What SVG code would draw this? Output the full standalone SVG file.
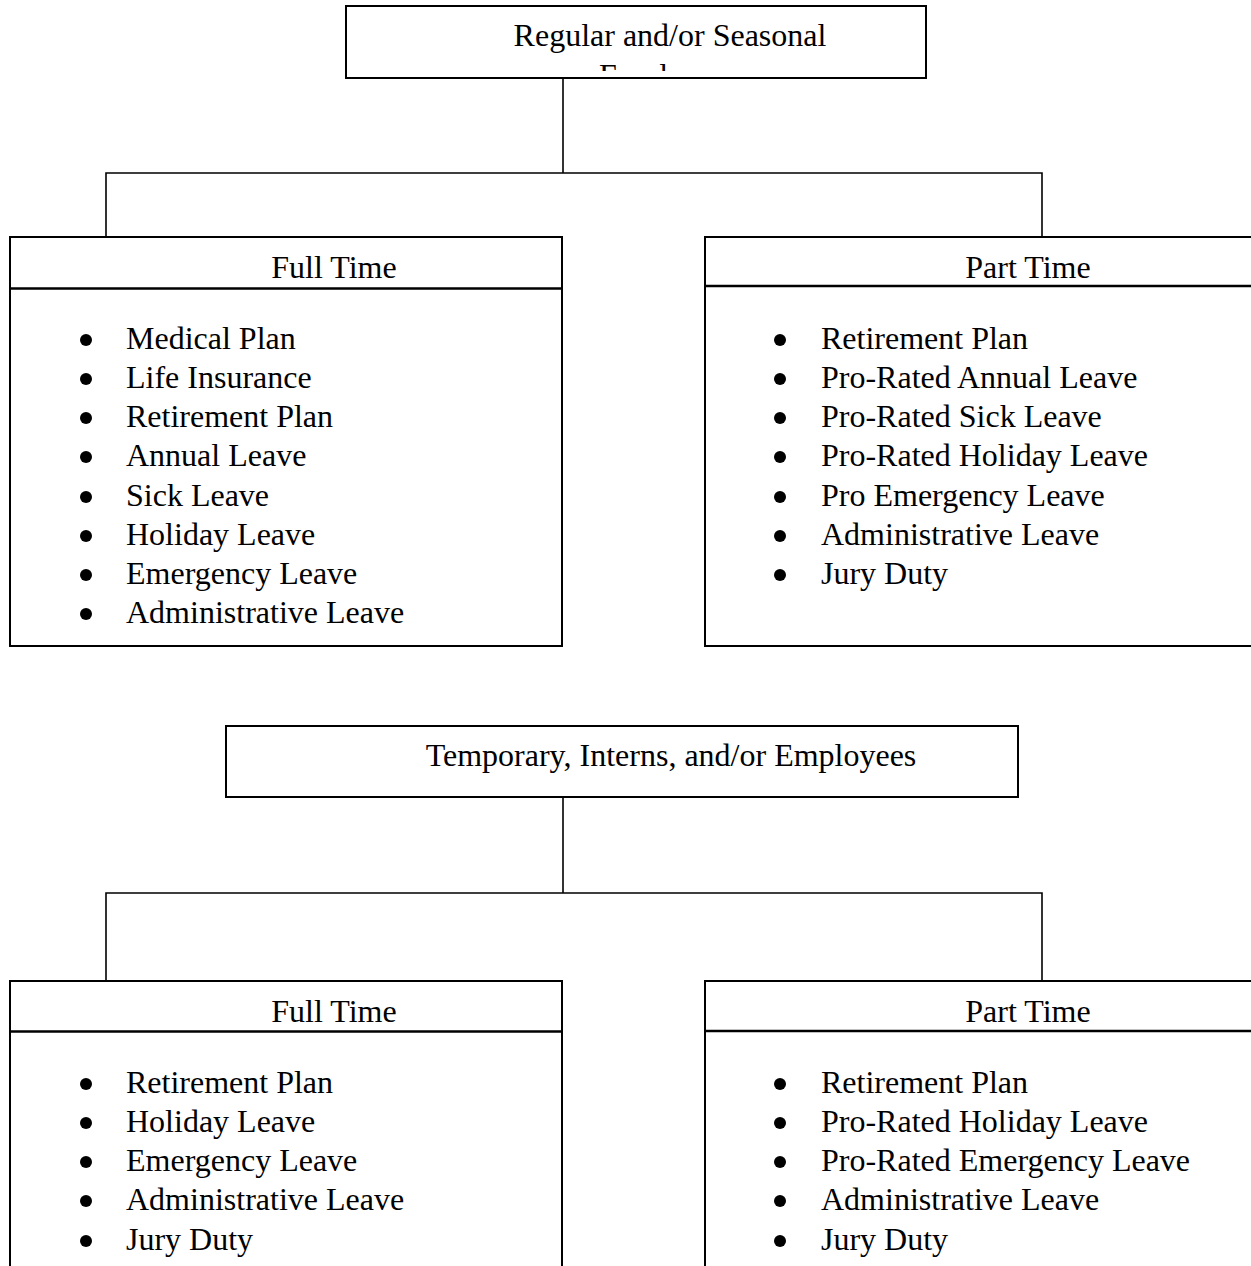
<svg xmlns="http://www.w3.org/2000/svg" width="1251" height="1266" viewBox="0 0 1251 1266">
<style>
.box{fill:#fff;stroke:#000;stroke-width:2}
.div{stroke:#000;stroke-width:2.5}
.con{fill:none;stroke:#000;stroke-width:1.6}
text{font-family:"Liberation Serif","Times New Roman",serif;font-size:32px;fill:#000}
.c{text-anchor:middle}
.b{fill:#000}
</style>
<defs>
<clipPath id="clipTop"><rect x="347" y="7" width="578" height="64"/></clipPath>
</defs>
<rect width="1251" height="1266" fill="#fff"/>
<g id="connectors">
<path class="con" d="M563 78V173M106 237V173H1042V237"/>
<path class="con" d="M563 797V893M106 981V893H1042V981"/>
</g>
<g id="regular">
<rect class="box" x="346" y="6" width="580" height="72"/>
<g clip-path="url(#clipTop)">
<text class="c" x="670" y="46">Regular and/or Seasonal</text>
<text class="c" x="670" y="86">Employees</text>
</g>
</g>
<g id="ft1">
<rect class="box" x="10" y="237" width="552" height="409"/>
<line class="div" x1="10" y1="288.5" x2="562" y2="288.5"/>
<text class="c" x="334" y="278">Full Time</text>
<g class="b"><circle cx="86" cy="340" r="6"/><circle cx="86" cy="379" r="6"/><circle cx="86" cy="418" r="6"/><circle cx="86" cy="457" r="6"/><circle cx="86" cy="497" r="6"/><circle cx="86" cy="536" r="6"/><circle cx="86" cy="575" r="6"/><circle cx="86" cy="614" r="6"/></g>
<text x="126" y="349">Medical Plan</text>
<text x="126" y="388">Life Insurance</text>
<text x="126" y="427">Retirement Plan</text>
<text x="126" y="466">Annual Leave</text>
<text x="126" y="506">Sick Leave</text>
<text x="126" y="545">Holiday Leave</text>
<text x="126" y="584">Emergency Leave</text>
<text x="126" y="623">Administrative Leave</text>
</g>
<g id="pt1">
<rect class="box" x="705" y="237" width="560" height="409"/>
<line class="div" x1="705" y1="286" x2="1251" y2="286"/>
<text class="c" x="1028" y="278">Part Time</text>
<g class="b"><circle cx="780" cy="340" r="6"/><circle cx="780" cy="379" r="6"/><circle cx="780" cy="418" r="6"/><circle cx="780" cy="457" r="6"/><circle cx="780" cy="497" r="6"/><circle cx="780" cy="536" r="6"/><circle cx="780" cy="575" r="6"/></g>
<text x="821" y="349">Retirement Plan</text>
<text x="821" y="388">Pro-Rated Annual Leave</text>
<text x="821" y="427">Pro-Rated Sick Leave</text>
<text x="821" y="466">Pro-Rated Holiday Leave</text>
<text x="821" y="506">Pro Emergency Leave</text>
<text x="821" y="545">Administrative Leave</text>
<text x="821" y="584">Jury Duty</text>
</g>
<g id="temporary">
<rect class="box" x="226" y="726" width="792" height="71"/>
<text class="c" x="671" y="766">Temporary, Interns, and/or Employees</text>
</g>
<g id="ft2">
<rect class="box" x="10" y="981" width="552" height="300"/>
<line class="div" x1="10" y1="1031.5" x2="562" y2="1031.5"/>
<text class="c" x="334" y="1022">Full Time</text>
<g class="b"><circle cx="86" cy="1084" r="6"/><circle cx="86" cy="1123" r="6"/><circle cx="86" cy="1162" r="6"/><circle cx="86" cy="1201" r="6"/><circle cx="86" cy="1241" r="6"/></g>
<text x="126" y="1093">Retirement Plan</text>
<text x="126" y="1132">Holiday Leave</text>
<text x="126" y="1171">Emergency Leave</text>
<text x="126" y="1210">Administrative Leave</text>
<text x="126" y="1250">Jury Duty</text>
</g>
<g id="pt2">
<rect class="box" x="705" y="981" width="560" height="300"/>
<line class="div" x1="705" y1="1031" x2="1251" y2="1031"/>
<text class="c" x="1028" y="1022">Part Time</text>
<g class="b"><circle cx="780" cy="1084" r="6"/><circle cx="780" cy="1123" r="6"/><circle cx="780" cy="1162" r="6"/><circle cx="780" cy="1201" r="6"/><circle cx="780" cy="1241" r="6"/></g>
<text x="821" y="1093">Retirement Plan</text>
<text x="821" y="1132">Pro-Rated Holiday Leave</text>
<text x="821" y="1171">Pro-Rated Emergency Leave</text>
<text x="821" y="1210">Administrative Leave</text>
<text x="821" y="1250">Jury Duty</text>
</g>
</svg>
